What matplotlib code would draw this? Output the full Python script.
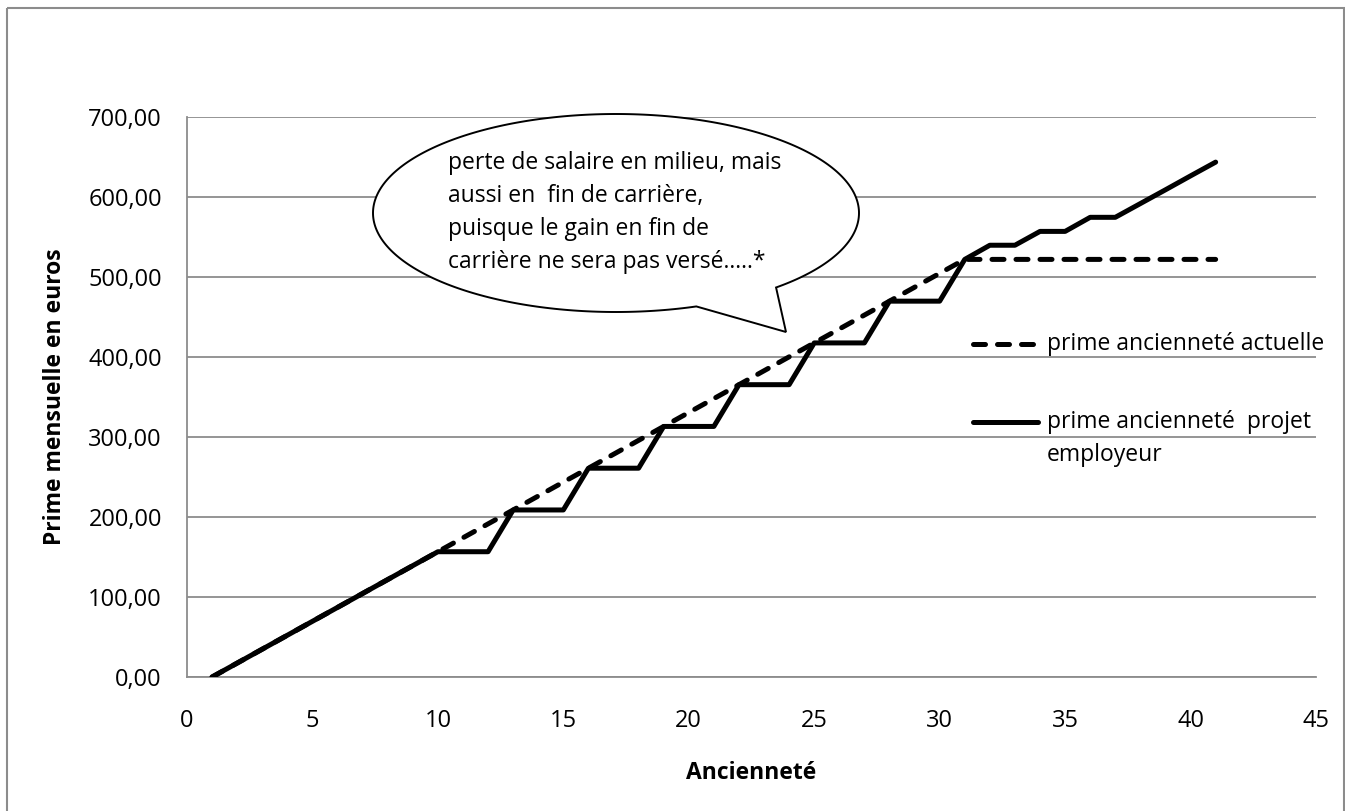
import matplotlib
matplotlib.use("Agg")
import matplotlib.pyplot as plt
import numpy as np
from matplotlib.path import Path
from matplotlib.patches import PathPatch, Rectangle
from matplotlib.lines import Line2D

plt.rcParams['font.family'] = ['Open Sans', 'DejaVu Sans']

# ---- data ----
annees = list(range(1, 42))
prime_actuelle = [0.0, 17.4, 34.8, 52.2, 69.6, 87.0, 104.4, 121.8, 139.2, 156.6,
                  174.0, 191.4, 208.8, 226.2, 243.6, 261.0, 278.4, 295.8, 313.2, 330.6,
                  348.0, 365.4, 382.8, 400.2, 417.6, 435.0, 452.4, 469.8, 487.2, 504.6,
                  522.0, 522.0, 522.0, 522.0, 522.0, 522.0, 522.0, 522.0, 522.0, 522.0,
                  522.0]
prime_projet = [0.0, 17.4, 34.8, 52.2, 69.6, 87.0, 104.4, 121.8, 139.2, 156.6,
                156.6, 156.6, 208.8, 208.8, 208.8, 261.0, 261.0, 261.0, 313.2, 313.2,
                313.2, 365.4, 365.4, 365.4, 417.6, 417.6, 417.6, 469.8, 469.8, 469.8,
                522.0, 539.7, 539.7, 557.0, 557.0, 574.6, 574.6, 591.8, 609.0, 626.4,
                643.6]
x_ticks = [0, 5, 10, 15, 20, 25, 30, 35, 40, 45]
y_ticks = [0, 100, 200, 300, 400, 500, 600, 700]
label_actuelle = "prime ancienneté actuelle"
label_projet = ["prime ancienneté  projet", "employeur"]
bulle = ["perte de salaire en milieu, mais",
         "aussi en  fin de carrière,",
         "puisque le gain en fin de",
         "carrière ne sera pas versé.....*"]

W, H = 1345, 811
fig = plt.figure(figsize=(W / 100, H / 100), dpi=100)
fig.patch.set_facecolor('white')

L, R, T, B = 187, 1316, 117, 677
ax = fig.add_axes([L / W, 1 - B / H, (R - L) / W, (B - T) / H])

grid_c = '#8c8c8c'
ax.plot(annees, prime_actuelle, color='black', lw=3.6,
        linestyle=(0, (2.4, 2.4)), dash_capstyle='round', solid_capstyle='round', zorder=3)
ax.plot(annees, prime_projet, color='black', lw=3.6,
        solid_capstyle='round', solid_joinstyle='round', zorder=4)

ax.set_xlim(0, 45)
ax.set_ylim(0, 700)
ax.set_xticks(x_ticks)
ax.set_yticks(y_ticks)
ax.set_yticklabels([f"{v:.2f}".replace('.', ',') for v in y_ticks])
ax.tick_params(axis='both', length=0, labelsize=17, colors='black')
ax.tick_params(axis='x', pad=23)
ax.tick_params(axis='y', pad=18)
ax.grid(axis='y', color=grid_c, lw=1.3)
ax.set_axisbelow(True)
for s in ['top', 'right']:
    ax.spines[s].set_visible(False)
for s in ['left', 'bottom']:
    ax.spines[s].set_color(grid_c)
    ax.spines[s].set_linewidth(1.3)

ax.set_xlabel("Ancienneté", fontsize=16.5, fontweight='bold', labelpad=20)
ax.set_ylabel("Prime mensuelle en euros", fontsize=16.5, fontweight='bold', labelpad=15)

# ---- overlay in pixel coordinates ----
ov = fig.add_axes([0, 0, 1, 1], zorder=10)
ov.set_xlim(0, W)
ov.set_ylim(H, 0)
ov.axis('off')
ov.patch.set_alpha(0)

# outer border
ov.add_patch(Rectangle((7, 8), 1336.5, 820, fill=False, edgecolor=grid_c, lw=1.5))

# speech bubble
cx, cy, a, b = 616, 213, 243, 99
t0, t1 = np.deg2rad(70.7), np.deg2rad(360 + 48.8)
t = np.linspace(t0, t1, 300)
pts = list(zip(cx + a * np.cos(t), cy + b * np.sin(t)))
pts.append((786, 332))
pts.append(pts[0])
codes = [Path.MOVETO] + [Path.LINETO] * (len(pts) - 2) + [Path.CLOSEPOLY]
ov.add_patch(PathPatch(Path(pts, codes), facecolor='white', edgecolor='black',
                       lw=1.4, joinstyle='miter'))
for i, line in enumerate(bulle):
    ov.text(448, 163 + 33 * i, line, fontsize=16.5, ha='left', va='center', color='black')

# legend
ov.add_line(Line2D([973, 1036], [344, 344], color='black', lw=3.6,
                   linestyle=(0, (2.4, 2.4)), dash_capstyle='round'))
ov.text(1047, 344, label_actuelle, fontsize=16.5, ha='left', va='center')
ov.add_line(Line2D([973, 1038], [422, 422], color='black', lw=3.6, solid_capstyle='round'))
ov.text(1047, 422, label_projet[0], fontsize=16.5, ha='left', va='center')
ov.text(1047, 455, label_projet[1], fontsize=16.5, ha='left', va='center')

fig.savefig("out.png", dpi=100)
